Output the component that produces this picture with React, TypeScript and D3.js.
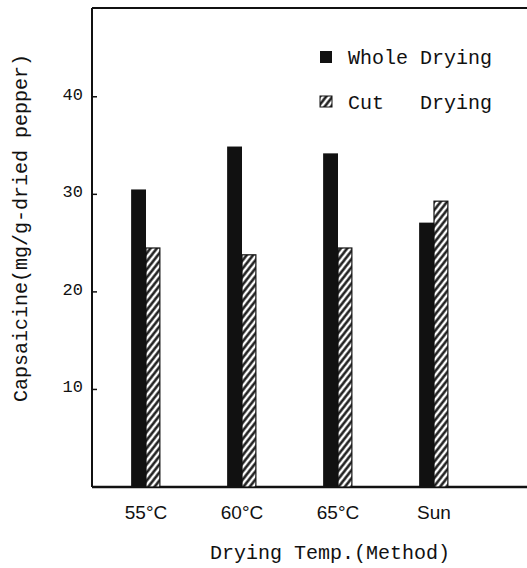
import React from "react";
import * as d3 from "d3";

// values (mg/g dried pepper)
const categories = ["55°C", "60°C", "65°C", "Sun"];
const wholeDrying = [30.5, 34.9, 34.2, 27.1];
const cutDrying = [24.5, 23.8, 24.5, 29.3];
const yTicks = [10, 20, 30, 40];

const W = 527;
const H = 568;
const ink = "#111";
const mono = "'Liberation Mono', 'DejaVu Sans Mono', monospace";

export default function App() {
  const left = 92;
  const top = 8;
  const bottom = 487;

  const x = d3.scaleBand<string>().domain(categories).range([98, 482]).paddingInner(0.69).paddingOuter(0.345);
  const y = d3.scaleLinear().domain([0, 49.1]).range([bottom, top]);
  const bw = x.bandwidth() / 2;

  return (
    <svg width={W} height={H} style={{ position: "absolute", left: 0, top: 0, background: "#fff" }}>
      <defs>
        <pattern id="hatch" width="5" height="5" patternUnits="userSpaceOnUse" patternTransform="rotate(38)">
          <rect width="5" height="5" fill="#fff" />
          <line x1="1.5" y1="0" x2="1.5" y2="5" stroke={ink} strokeWidth="2.4" />
        </pattern>
      </defs>

      {/* frame: left axis, top line, bottom axis */}
      <line x1={left} y1={top} x2={W} y2={top} stroke={ink} strokeWidth={2} />
      <line x1={left} y1={top} x2={left} y2={bottom} stroke={ink} strokeWidth={2} />
      <line x1={left} y1={bottom} x2={W} y2={bottom} stroke={ink} strokeWidth={2.5} />

      {yTicks.map((t) => (
        <g key={t}>
          <line x1={left} y1={y(t)} x2={left + 5} y2={y(t)} stroke={ink} strokeWidth={1.5} />
          <text x={left - 9} y={y(t) + 3} textAnchor="end" fontFamily={mono} fontSize={17} fill={ink}>
            {t}
          </text>
        </g>
      ))}

      {categories.map((c, i) => {
        const x0 = x(c)!;
        return (
          <g key={c}>
            <rect x={x0} y={y(wholeDrying[i])} width={bw} height={bottom - y(wholeDrying[i])} fill={ink} />
            <rect
              x={x0 + bw}
              y={y(cutDrying[i])}
              width={bw - 1}
              height={bottom - y(cutDrying[i])}
              fill="url(#hatch)"
              stroke={ink}
              strokeWidth={1.2}
            />
            <text
              x={x0 + bw}
              y={519}
              textAnchor="middle"
              fontFamily="'Liberation Sans', Arial, sans-serif"
              fontSize={19}
              fill={ink}
            >
              {c}
            </text>
          </g>
        );
      })}

      {/* legend */}
      <rect x={320} y={51} width={12} height={12} fill={ink} />
      <text x={348} y={64} fontFamily={mono} fontSize={20} fill={ink} style={{ whiteSpace: "pre" }}>
        Whole Drying
      </text>
      <rect x={320} y={96} width={12} height={11} fill="url(#hatch)" stroke={ink} strokeWidth={1} />
      <text x={348} y={109} fontFamily={mono} fontSize={20} fill={ink} style={{ whiteSpace: "pre" }}>
        {"Cut   Drying"}
      </text>

      {/* axis titles */}
      <text x={330} y={559} textAnchor="middle" fontFamily={mono} fontSize={20} fill={ink}>
        Drying Temp.(Method)
      </text>
      <text
        transform="translate(27,228) rotate(-90)"
        textAnchor="middle"
        fontFamily={mono}
        fontSize={20}
        fill={ink}
      >
        Capsaicine(mg/g-dried pepper)
      </text>
    </svg>
  );
}
